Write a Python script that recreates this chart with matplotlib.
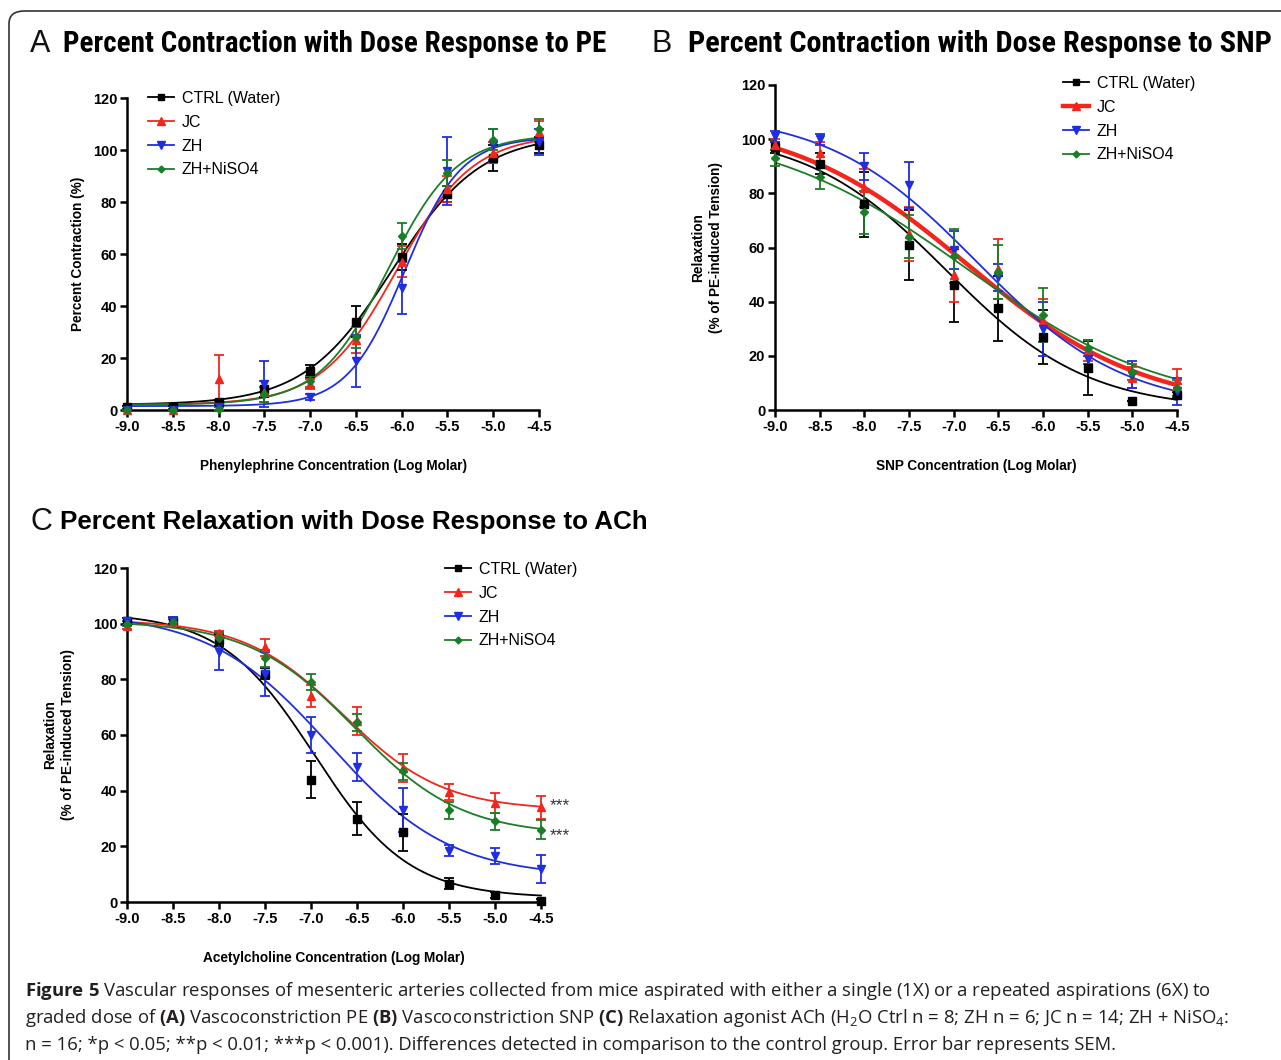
import numpy as np
import matplotlib
matplotlib.use('Agg')
import matplotlib.pyplot as plt
from matplotlib import font_manager
from matplotlib.lines import Line2D
from matplotlib.patches import FancyBboxPatch

W, H = 1281, 1060

# ---- data ----
log_conc = [-9.0, -8.5, -8.0, -7.5, -7.0, -6.5, -6.0, -5.5, -5.0, -4.5]
group_names = ['CTRL (Water)', 'JC', 'ZH', 'ZH+NiSO4']

# A: phenylephrine, percent contraction (mean, SEM)
pe_ctrl = [1, 1, 3, 8, 15, 34, 59, 83, 97, 102]
pe_ctrl_sem = [0.5, 0.5, 1, 3, 2.5, 6, 5, 3, 5, 3]
pe_jc = [0, 0, 12, 7, 10, 27, 57, 85, 99, 107]
pe_jc_sem = [0.5, 0.5, 9, 4, 2, 5, 6, 5, 4, 4]
pe_zh = [0, 0, 1, 10, 5, 19, 47, 92, 102, 103]
pe_zh_sem = [0.5, 0.5, 1, 9, 1, 10, 10, 13, 6, 5]
pe_ni = [0, 0, 0.5, 6, 11, 28, 67, 91, 104, 108]
pe_ni_sem = [0.5, 0.5, 0.5, 3, 2, 4, 5, 5, 4, 4]

# B: SNP, relaxation
snp_ctrl = [97, 91, 76, 61, 46, 37.5, 27, 15.5, 3.5, 5.5]
snp_ctrl_sem = [2, 4, 12, 13, 13.5, 12, 10, 10, 0, 1]
snp_jc = [98, 95, 82, 65, 50, 52, 33, 22, 12, 11]
snp_jc_sem = [2, 4, 7, 10, 10, 11, 8, 4, 4, 4]
snp_zh = [101, 100, 90, 83, 59, 49, 30, 19, 13, 7]
snp_zh_sem = [2, 2, 5, 8.5, 7, 5, 10, 2, 5, 5]
snp_ni = [93, 86, 73, 64, 57, 51, 35, 23, 14, 8]
snp_ni_sem = [3, 4.5, 8, 8, 10, 10, 10, 3, 3, 3]

# C: acetylcholine, relaxation
ach_ctrl = [101, 101, 94, 82, 44, 30, 25, 6.5, 2.5, 0.5]
ach_ctrl_sem = [1, 1, 2, 2, 6.5, 6, 6.5, 2, 1, 0.5]
ach_jc = [99, 100.5, 96.5, 91.5, 74, 65, 48, 39.5, 35.5, 34]
ach_jc_sem = [1, 1, 1, 3, 4, 5, 5, 3, 3.5, 4]
ach_zh = [101, 101, 90, 82, 60, 48.5, 33, 18.5, 16.5, 12]
ach_zh_sem = [1, 1.5, 6.5, 8, 6.5, 5, 8, 2, 3, 5]
ach_ni = [100, 100.5, 95, 87.5, 79, 64.5, 47, 33, 29, 26]
ach_ni_sem = [1, 1, 2, 3, 3, 3, 3, 3, 3, 3.5]

# fitted dose-response curves: bottom, top, logEC50, hill slope
pe_fit = [(2, 106, -6.10, 0.90), (2, 106, -6.05, 1.05),
          (1.5, 105, -5.97, 1.40), (2, 106, -6.15, 1.15)]
snp_fit = [(0, 103, -7.08, -0.55), (0, 108, -6.856, -0.437),
           (0, 110, -6.75, -0.522), (0, 105, -6.866, -0.387)]
ach_fit = [(1.5, 104, -6.96, -0.85), (33, 101.5, -6.65, -0.80),
           (9, 104, -6.80, -0.66), (24, 101, -6.52, -0.75)]

# significance vs control at the highest ACh dose
ach_sig = {'JC': '***', 'ZH+NiSO4': '***'}

colors = ['black', '#f2261c', '#1f2ee0', '#1c7d28']
markers = ['s', '^', 'v', 'D']
msizes = [5.5, 6, 6, 4]

# ---- fonts ----
names = {f.name for f in font_manager.fontManager.ttflist}
narrow = 'Liberation Sans'
for cand in ['Liberation Sans Narrow', 'Roboto Condensed', 'Open Sans Condensed']:
    if cand in names:
        narrow = cand
        break
plt.rcParams['font.family'] = ['Liberation Sans', 'DejaVu Sans']
plt.rcParams['mathtext.fontset'] = 'custom'
plt.rcParams['mathtext.rm'] = 'Open Sans'
plt.rcParams['mathtext.bf'] = 'Open Sans:bold'
plt.rcParams['mathtext.it'] = 'Open Sans:italic'


def pxbox(l, t, r, b):
    return [l / W, 1 - b / H, (r - l) / W, (b - t) / H]


def four_pl(x, p):
    bottom, top, ec50, hill = p
    return bottom + (top - bottom) / (1 + 10 ** ((ec50 - x) * hill))


fig = plt.figure(figsize=(W / 100, H / 100), dpi=100)
fig.patch.set_facecolor('white')
renderer = fig.canvas.get_renderer()


def fit_width(t, target):
    # shrink/grow a text until it spans `target` pixels
    for _ in range(3):
        w = t.get_window_extent(renderer).width
        t.set_fontsize(t.get_fontsize() * target / w)


# outer frame
frame = FancyBboxPatch((9 / W, -0.05), 1.2, 1.05 - 11 / H,
                       boxstyle='round,pad=0,rounding_size=0.012',
                       transform=fig.transFigure, fill=False,
                       edgecolor='#333333', linewidth=1.2)
fig.patches.append(frame)


def panel(box, means, sems, fits, xlabel, ylabel, leg_xy, ylabelpad, thick_jc=False):
    ax = fig.add_axes(box)
    xs = np.linspace(-9, -4.5, 400)
    for i in range(4):
        lw = 3.2 if (thick_jc and i == 1) else 1.3
        ax.plot(xs, four_pl(xs, fits[i]), color=colors[i], lw=lw, zorder=2, clip_on=False)
    for i in range(4):
        eb = ax.errorbar(log_conc, means[i], yerr=sems[i], fmt=markers[i], color=colors[i],
                         ms=msizes[i], capsize=3.6, elinewidth=1.3, capthick=1.3, zorder=3)
        for art in eb.lines[0:1] + tuple(eb.lines[1]) + tuple(eb.lines[2]):
            art.set_clip_on(False)
    ax.set_xlim(-9, -4.5)
    ax.set_ylim(0, 120)
    for s in ['top', 'right']:
        ax.spines[s].set_visible(False)
    for s in ['left', 'bottom']:
        ax.spines[s].set_linewidth(1.8)
    ax.tick_params(direction='out', length=5, width=1.8, labelsize=10.5, pad=2)
    ax.set_xticks(log_conc, labels=['%.1f' % v for v in log_conc], fontweight='bold')
    yt = [0, 20, 40, 60, 80, 100, 120]
    ax.set_yticks(yt, labels=[str(v) for v in yt], fontweight='bold')
    ax.set_xlabel(xlabel, fontsize=9.8, fontweight='bold', labelpad=18)
    ax.set_ylabel(ylabel, fontsize=9.8, fontweight='bold', labelpad=ylabelpad, linespacing=1.3)
    handles = []
    for i in range(4):
        lw = 3.2 if (thick_jc and i == 1) else 1.3
        handles.append(Line2D([], [], color=colors[i], marker=markers[i], ms=msizes[i] - 0.5, lw=lw))
    ax.legend(handles, group_names, loc='upper left',
              bbox_to_anchor=(leg_xy[0] / W, 1 - leg_xy[1] / H), bbox_transform=fig.transFigure,
              frameon=False, fontsize=11.5, handlelength=1.6, handletextpad=0.5,
              labelspacing=0.55, borderpad=0, borderaxespad=0)
    return ax


axA = panel(pxbox(127, 98, 539, 410), [pe_ctrl, pe_jc, pe_zh, pe_ni],
            [pe_ctrl_sem, pe_jc_sem, pe_zh_sem, pe_ni_sem], pe_fit,
            'Phenylephrine Concentration (Log Molar)', 'Percent Contraction (%)', (148, 91), 5.5)
axB = panel(pxbox(775, 85, 1177, 410), [snp_ctrl, snp_jc, snp_zh, snp_ni],
            [snp_ctrl_sem, snp_jc_sem, snp_zh_sem, snp_ni_sem], snp_fit,
            'SNP Concentration (Log Molar)', 'Relaxation\n(% of PE-induced Tension)', (1063, 76), 13,
            thick_jc=True)
axC = panel(pxbox(127, 568, 541, 902), [ach_ctrl, ach_jc, ach_zh, ach_ni],
            [ach_ctrl_sem, ach_jc_sem, ach_zh_sem, ach_ni_sem], ach_fit,
            'Acetylcholine Concentration (Log Molar)', 'Relaxation\n(% of PE-induced Tension)', (445, 562), 13)

# significance marks on ACh panel (nudged apart like the original)
ach_last = {'JC': ach_jc[-1], 'ZH+NiSO4': ach_ni[-1]}
nudge = {'JC': 1, 'ZH+NiSO4': -4}
for g, mark in ach_sig.items():
    axC.annotate(mark, xy=(-4.5, ach_last[g]), xytext=(6, nudge[g]), textcoords='offset points',
                 ha='left', va='center', fontsize=12.5, color='#333333', annotation_clip=False)

# panel titles
letter_kw = dict(fontsize=22, va='center', ha='left', color='#111111')
fig.text(30 / W, 1 - 44 / H, 'A', **letter_kw)
tA = fig.text(63 / W, 1 - 44 / H, 'Percent Contraction with Dose Response to PE',
              family=[narrow, 'DejaVu Sans'], fontsize=18, fontweight='bold', va='center', ha='left')
fit_width(tA, 542)
fig.text(652 / W, 1 - 44 / H, 'B', **letter_kw)
tB = fig.text(688 / W, 1 - 44 / H, 'Percent Contraction with Dose Response to SNP',
              family=[narrow, 'DejaVu Sans'], fontsize=18, fontweight='bold', va='center', ha='left')
fit_width(tB, 584)
fig.text(30 / W, 1 - 522 / H, 'C', **letter_kw)
tC = fig.text(60 / W, 1 - 522 / H, 'Percent Relaxation with Dose Response to ACh',
              fontsize=18, fontweight='bold', va='center', ha='left')
fit_width(tC, 585)

# caption
cap_lines = [
    r"$\mathbf{Figure\ 5}$ Vascular responses of mesenteric arteries collected from mice aspirated with either a single (1X) or a repeated aspirations (6X) to",
    r"graded dose of $\mathbf{(A)}$ Vascoconstriction PE $\mathbf{(B)}$ Vascoconstriction SNP $\mathbf{(C)}$ Relaxation agonist ACh (H$_2$O Ctrl n = 8; ZH n = 6; JC n = 14; ZH + NiSO$_4$:",
    r"n = 16; *p < 0.05; **p < 0.01; ***p < 0.001). Differences detected in comparison to the control group. Error bar represents SEM.",
]
cap_texts = []
for k, line in enumerate(cap_lines):
    cap_texts.append(fig.text(25 / W, 1 - (991.5 + 26.5 * k) / H, line, family=['Open Sans', 'DejaVu Sans'],
                              fontsize=11.5, color='#231f20', va='center', ha='left'))
w0 = cap_texts[0].get_window_extent(renderer).width
for t in cap_texts:
    t.set_fontsize(11.5 * 1187 / w0)

fig.savefig('out.png', dpi=100)
